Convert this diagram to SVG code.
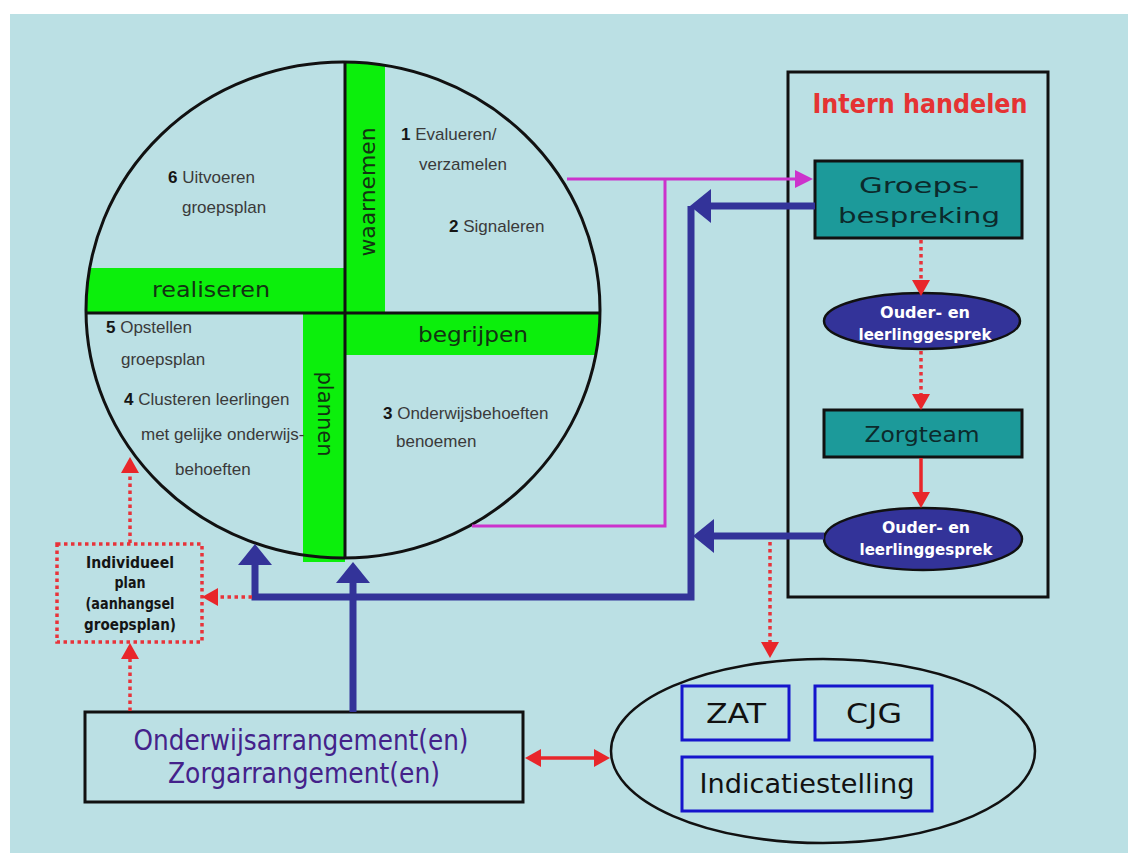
<svg xmlns="http://www.w3.org/2000/svg" width="1128" height="853" viewBox="0 0 1128 853">
<style>
.phase{font-family:"Liberation Sans",Arial,sans-serif;font-size:17px;fill:#3a3a3a}
.num{font-weight:bold;fill:#151515}
.comic{font-family:"DejaVu Sans","Liberation Sans",sans-serif}
.bar{font-size:22px;fill:#123312}
.green{fill:#0CEF0C}
.teal{fill:#1C9A9A;stroke:#111;stroke-width:3}
.tealtxt{font-size:22px;fill:#0c2a2c;text-anchor:middle}
.navy{fill:#333399;stroke:#111;stroke-width:2.5}
.navytxt{font-size:16px;font-weight:bold;fill:#ffffff;text-anchor:middle}
.blue{fill:none;stroke:#333399;stroke-width:7}
.reddot{fill:none;stroke:#E8333A;stroke-width:3.5;stroke-dasharray:3.5 3.5}
.redsolid{fill:none;stroke:#E8262A;stroke-width:3.5}
.mag{fill:none;stroke:#CC33CC;stroke-width:3}
.inner{fill:none;stroke:#1515CC;stroke-width:3}
.innertxt{font-size:27px;fill:#111;text-anchor:middle}
</style>
<defs>
<clipPath id="circleClip"><ellipse cx="343" cy="310" rx="257" ry="248"/></clipPath>
<marker id="blueHead" markerUnits="userSpaceOnUse" markerWidth="21" markerHeight="34" refX="0" refY="17" orient="auto" overflow="visible"><path d="M0,0 L21,17 L0,34 z" fill="#333399"/></marker>
<marker id="redHead" markerUnits="userSpaceOnUse" markerWidth="16" markerHeight="18" refX="0" refY="9" orient="auto-start-reverse" overflow="visible"><path d="M0,0 L16,9 L0,18 z" fill="#E8262A"/></marker>
<marker id="magHead" markerUnits="userSpaceOnUse" markerWidth="18" markerHeight="18" refX="0" refY="9" orient="auto" overflow="visible"><path d="M0,0 L18,9 L0,18 z" fill="#CC33CC"/></marker>
</defs>
<rect x="0" y="0" width="1128" height="853" fill="#ffffff"/>
<rect x="10" y="14" width="1118" height="839" fill="#BBE0E4"/>

<g id="cycle">
  <g clip-path="url(#circleClip)">
    <rect class="green" x="345" y="60" width="40" height="253"/>
    <rect class="green" x="80" y="268" width="265" height="45"/>
    <rect class="green" x="345" y="313" width="260" height="42"/>
  </g>
  <rect class="green" x="303" y="313" width="42" height="249"/>
  <ellipse cx="343" cy="310" rx="257" ry="248" fill="none" stroke="#111" stroke-width="3"/>
  <line x1="86" y1="313" x2="600" y2="313" stroke="#111" stroke-width="3"/>
  <line x1="345" y1="62" x2="345" y2="558" stroke="#111" stroke-width="3"/>
  <text class="comic bar" x="211" y="297" text-anchor="middle" textLength="118" lengthAdjust="spacingAndGlyphs">realiseren</text>
  <text class="comic bar" x="473" y="342" text-anchor="middle" textLength="110" lengthAdjust="spacingAndGlyphs">begrijpen</text>
  <text class="comic bar" transform="translate(375,192) rotate(-90)" x="0" y="0" text-anchor="middle" textLength="129" lengthAdjust="spacingAndGlyphs">waarnemen</text>
  <text class="comic bar" transform="translate(318,414) rotate(90)" x="0" y="0" text-anchor="middle" textLength="85" lengthAdjust="spacingAndGlyphs">plannen</text>
  <text class="phase" x="168" y="183"><tspan class="num">6</tspan> Uitvoeren</text>
  <text class="phase" x="182" y="213">groepsplan</text>
  <text class="phase" x="401" y="140"><tspan class="num">1</tspan> Evalueren/</text>
  <text class="phase" x="419" y="170">verzamelen</text>
  <text class="phase" x="449" y="232"><tspan class="num">2</tspan> Signaleren</text>
  <text class="phase" x="106" y="333"><tspan class="num">5</tspan> Opstellen</text>
  <text class="phase" x="121" y="365">groepsplan</text>
  <text class="phase" x="124" y="405"><tspan class="num">4</tspan> Clusteren leerlingen</text>
  <text class="phase" x="141" y="440">met gelijke onderwijs-</text>
  <text class="phase" x="175" y="475">behoeften</text>
  <text class="phase" x="383" y="419"><tspan class="num">3</tspan> Onderwijsbehoeften</text>
  <text class="phase" x="396" y="447">benoemen</text>
</g>

<g id="intern-handelen">
  <rect x="788" y="72" width="260" height="525" fill="none" stroke="#111" stroke-width="3"/>
  <text class="comic" x="920" y="113" text-anchor="middle" font-size="26" font-weight="bold" fill="#E53333" textLength="215" lengthAdjust="spacingAndGlyphs">Intern handelen</text>
</g>

<g id="groepsbespreking">
  <rect class="teal" x="815" y="161" width="207" height="77"/>
  <text class="comic tealtxt" x="919" y="193" textLength="120" lengthAdjust="spacingAndGlyphs">Groeps-</text>
  <text class="comic tealtxt" x="919" y="223" textLength="162" lengthAdjust="spacingAndGlyphs">bespreking</text>
</g>

<g id="gesprek1">
  <ellipse class="navy" cx="922" cy="321" rx="98" ry="28"/>
  <text class="comic navytxt" x="925" y="318" textLength="90" lengthAdjust="spacingAndGlyphs">Ouder- en</text>
  <text class="comic navytxt" x="925" y="340" textLength="133" lengthAdjust="spacingAndGlyphs">leerlinggesprek</text>
</g>

<g id="zorgteam">
  <rect class="teal" x="824" y="410" width="198" height="47"/>
  <text class="comic tealtxt" x="922" y="442" font-size="24" textLength="115" lengthAdjust="spacingAndGlyphs">Zorgteam</text>
</g>

<g id="gesprek2">
  <ellipse class="navy" cx="923" cy="539" rx="99" ry="31"/>
  <text class="comic navytxt" x="926" y="533" textLength="88" lengthAdjust="spacingAndGlyphs">Ouder- en</text>
  <text class="comic navytxt" x="926" y="555" textLength="133" lengthAdjust="spacingAndGlyphs">leerlinggesprek</text>
</g>

<g id="individueel-plan">
  <rect class="reddot" x="57" y="544" width="145" height="98"/>
  <text class="comic" font-size="16" font-weight="bold" fill="#151515" text-anchor="middle" x="130" y="568" textLength="88" lengthAdjust="spacingAndGlyphs">Individueel</text>
  <text class="comic" font-size="16" font-weight="bold" fill="#151515" text-anchor="middle" x="130" y="588" textLength="31" lengthAdjust="spacingAndGlyphs">plan</text>
  <text class="comic" font-size="16" font-weight="bold" fill="#151515" text-anchor="middle" x="130" y="609" textLength="89" lengthAdjust="spacingAndGlyphs">(aanhangsel</text>
  <text class="comic" font-size="16" font-weight="bold" fill="#151515" text-anchor="middle" x="130" y="630" textLength="92" lengthAdjust="spacingAndGlyphs">groepsplan)</text>
</g>

<g id="arrangementen">
  <rect x="85" y="712" width="438" height="90" fill="none" stroke="#111" stroke-width="3"/>
  <text class="comic" font-size="28" fill="#44228A" text-anchor="middle" x="301" y="750" textLength="335" lengthAdjust="spacingAndGlyphs">Onderwijsarrangement(en)</text>
  <text class="comic" font-size="28" fill="#44228A" text-anchor="middle" x="304" y="783" textLength="272" lengthAdjust="spacingAndGlyphs">Zorgarrangement(en)</text>
</g>

<g id="extern">
  <ellipse cx="823" cy="751" rx="212" ry="92" fill="none" stroke="#111" stroke-width="2.5"/>
  <rect class="inner" x="682" y="686" width="107" height="54"/>
  <text class="comic innertxt" x="736" y="723" textLength="60" lengthAdjust="spacingAndGlyphs">ZAT</text>
  <rect class="inner" x="815" y="686" width="117" height="54"/>
  <text class="comic innertxt" x="874" y="723" textLength="56" lengthAdjust="spacingAndGlyphs">CJG</text>
  <rect class="inner" x="682" y="757" width="250" height="54"/>
  <text class="comic innertxt" x="807" y="793" textLength="215" lengthAdjust="spacingAndGlyphs">Indicatiestelling</text>
</g>

<g id="connectors">
  <path class="mag" d="M567,179 L795,179" marker-end="url(#magHead)"/>
  <path class="mag" d="M665,179 L665,526 L472,526"/>
  <path class="blue" d="M815,206 L711,206" marker-end="url(#blueHead)"/>
  <path class="blue" d="M691,206 L691,597 L255,597 L255,565" stroke-linejoin="miter" marker-end="url(#blueHead)"/>
  <path class="blue" d="M824,536 L714,536" marker-end="url(#blueHead)"/>
  <path class="blue" d="M353,712 L353,583" marker-end="url(#blueHead)"/>
  <path class="reddot" d="M921,240 L921,280" marker-end="url(#redHead)"/>
  <path class="reddot" d="M921,351 L921,394" marker-end="url(#redHead)"/>
  <path class="redsolid" d="M921,458 L921,492" marker-end="url(#redHead)"/>
  <path class="reddot" d="M770,542 L770,642" marker-end="url(#redHead)"/>
  <path class="reddot" d="M252,597 L218,597" marker-end="url(#redHead)"/>
  <path class="reddot" d="M130,543 L130,473" marker-end="url(#redHead)"/>
  <path class="reddot" d="M130,711 L130,659" marker-end="url(#redHead)"/>
  <path class="redsolid" d="M541,758 L594,758" marker-start="url(#redHead)" marker-end="url(#redHead)"/>
</g>
</svg>
